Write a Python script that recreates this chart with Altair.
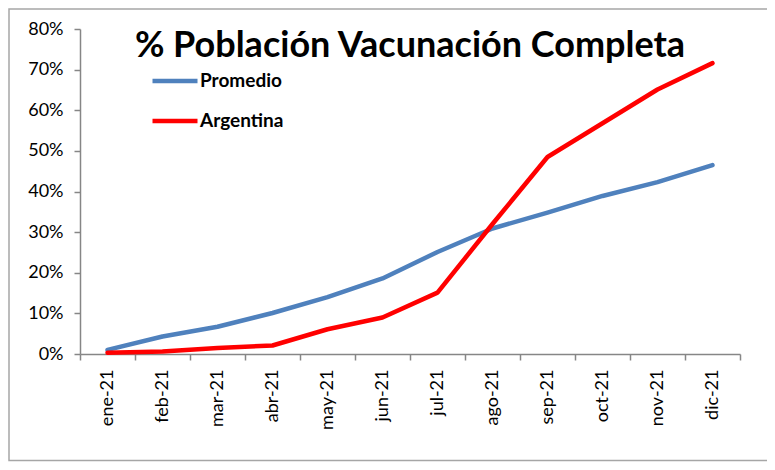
import altair as alt
import pandas as pd

months = ["ene-21", "feb-21", "mar-21", "abr-21", "may-21", "jun-21",
          "jul-21", "ago-21", "sep-21", "oct-21", "nov-21", "dic-21"]
promedio = [0.010, 0.043, 0.067, 0.101, 0.140, 0.186,
            0.251, 0.309, 0.348, 0.389, 0.423, 0.465]
argentina = [0.003, 0.006, 0.015, 0.021, 0.061, 0.090,
             0.151, 0.320, 0.485, 0.568, 0.651, 0.716]
series = ["Promedio", "Argentina"]
colors = ["#4F81BD", "#FF0000"]
title_text = "% Población Vacunación Completa"

rows = []
for name, vals in zip(series, [promedio, argentina]):
    for m, v in zip(months, vals):
        rows.append({"mes": m, "valor": v, "serie": name})
df = pd.DataFrame(rows)

FONT = "Lato"
AXIS_GRAY = "#868686"

lines = alt.Chart(df).mark_line(strokeWidth=4.5, strokeCap="round", strokeJoin="round").encode(
    x=alt.X("mes:N", sort=months, bandPosition=0.5,
            scale=alt.Scale(type="band", paddingInner=0, paddingOuter=0),
            axis=alt.Axis(title=None, labelAngle=-90, labelFontSize=18, labelFont=FONT,
                          labelColor="#000000", labelPadding=9, tickBand="extent",
                          tickSize=6, tickColor=AXIS_GRAY, domainColor=AXIS_GRAY,
                          domainWidth=1.5, tickWidth=1.5, grid=False)),
    y=alt.Y("valor:Q", scale=alt.Scale(domain=[0, 0.8], nice=False, zero=True),
            axis=alt.Axis(title=None, format=".0%", values=[i / 10 for i in range(9)],
                          labelFontSize=18, labelFont=FONT, labelColor="#000000",
                          labelPadding=11, tickSize=6, tickColor=AXIS_GRAY,
                          domainColor=AXIS_GRAY, domainWidth=1.5, tickWidth=1.5, grid=False)),
    color=alt.Color("serie:N", sort=series,
                    scale=alt.Scale(domain=series, range=colors),
                    legend=alt.Legend(title=None, orient="none", legendX=70, legendY=27,
                                      symbolType="stroke", symbolSize=2025,
                                      symbolStrokeWidth=4.5, labelFontSize=19,
                                      labelFont=FONT, labelFontWeight="bold",
                                      labelColor="#000000", rowPadding=5, padding=0,
                                      labelOffset=0)),
)

border = alt.Chart(alt.Data(values=[{}])).mark_rect(
    fill=None, stroke="#A6A6A6", strokeWidth=1.5
).encode(x=alt.value(-71), x2=alt.value(720), y=alt.value(-20), y2=alt.value(431.5))

chart = alt.layer(border, lines).properties(
    width=660, height=325,
    title=alt.TitleParams(title_text, fontSize=36, font=FONT, fontWeight="bold",
                          color="#000000", anchor="middle", offset=-40, dy=45,
                          baseline="alphabetic"),
    autosize=alt.AutoSizeParams(type="none"),
    padding={"left": 72, "top": 21, "right": 27, "bottom": 108},
).configure_view(stroke=None)

chart.save("out.html", embed_options={"renderer": "svg", "actions": False})
